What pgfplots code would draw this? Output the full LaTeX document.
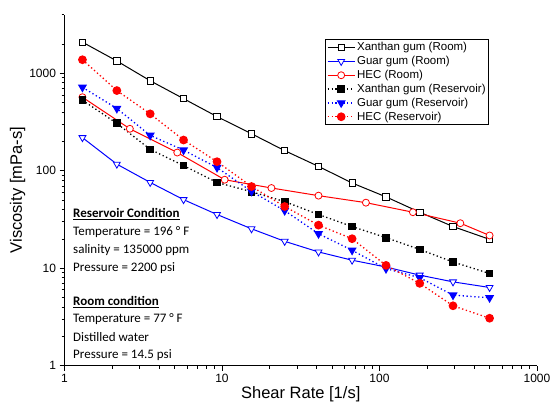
\documentclass[border=0pt]{standalone}
\usepackage{pgfplots}
\pgfplotsset{compat=1.18}
\usepackage{fontspec}
\setmainfont{Liberation Sans}
\newfontfamily\calibri{Carlito}
\begin{document}
\begin{tikzpicture}[x=1pt,y=1pt]
\path[use as bounding box] (-64.5,-48) rectangle (488.5,365.7);
\begin{axis}[
  at={(0,0)}, anchor=south west,
  scale only axis, width=472.5pt, height=351pt,
  xmode=log, ymode=log,
  xmin=1, xmax=1000, ymin=1, ymax=4000,
  axis lines*=left, axis line style={-, line width=0.9pt},
  tick align=outside, tick style={black, line width=0.8pt},
  major tick length=5pt, minor tick length=3pt,
  xtick={1,10,100,1000}, xticklabels={1,10,100,1000},
  ytick={1,10,100,1000}, yticklabels={1,10,100,1000},
  minor xtick={2,3,4,5,6,7,8,9,20,30,40,50,60,70,80,90,200,300,400,500,600,700,800,900},
  minor ytick={2,3,4,5,6,7,8,9,20,30,40,50,60,70,80,90,200,300,400,500,600,700,800,900,2000,4000},
  /pgf/number format/assume math mode=true,
  tick label style={font=\fontsize{12}{14}\selectfont},
  xlabel={Shear Rate [1/s]}, ylabel={Viscosity [mPa-s]},
  label style={font=\fontsize{16.5}{18}\selectfont},
  xlabel style={yshift=3pt}, ylabel style={yshift=-3pt},
  clip=false,
  legend style={at={(0.551,0.93)}, anchor=north west, draw=black, line width=0.8pt,
    font=\fontsize{11.5}{14}\selectfont, inner sep=1.8pt, row sep=1.6pt,
    nodes={inner sep=1.2pt},
    /tikz/every odd column/.append style={column sep=0.6pt}},
  legend cell align=left,
  legend image code/.code={\draw[mark repeat=2,mark phase=2,#1] plot coordinates {(0pt,0pt) (13.5pt,0pt) (27pt,0pt)};},
]
\addplot[black, line width=1pt, mark=square*, mark options={fill=white, solid, line width=0.8pt}, mark size=3.2pt]
 coordinates {(1.3,2090) (2.15,1340) (3.5,840) (5.7,550) (9.3,360) (15.4,240) (25,161) (41,111) (67,75) (110,54) (180,37.6) (293,26.8) (500,19.8)};
\addlegendentry{Xanthan gum (Room)}
\addplot[blue, line width=1pt, mark=triangle*, mark options={fill=white, solid, rotate=180, line width=0.8pt}, mark size=4pt]
 coordinates {(1.3,219) (2.15,117) (3.5,76) (5.7,50.6) (9.3,35.6) (15.4,25.4) (25,18.9) (41,14.7) (67,12.1) (110,10.3) (180,8.5) (293,7.25) (500,6.35)};
\addlegendentry{Guar gum (Room)}
\addplot[red, line width=1pt, mark=*, mark options={fill=white, solid, line width=0.8pt}, mark size=3.5pt]
 coordinates {(1.3,569) (2.6,270) (5.2,154) (10.4,81) (20.6,66.6) (41,55.6) (82,47.1) (163,37.6) (326,29) (500,21.7)};
\addlegendentry{HEC (Room)}
\addplot[black, line width=1.3pt, dash pattern=on 1.3pt off 2.6pt, mark=square*, mark options={fill=black, solid}, mark size=3.2pt]
 coordinates {(1.3,530) (2.15,307) (3.5,166) (5.7,113) (9.3,76) (15.4,61) (25,48.3) (41,35.6) (67,26.8) (110,20.6) (180,15.6) (293,11.6) (500,8.83)};
\addlegendentry{Xanthan gum (Reservoir)}
\addplot[blue, line width=1.3pt, dash pattern=on 1.3pt off 2.6pt, mark=triangle*, mark options={fill=blue, solid, rotate=180}, mark size=4pt]
 coordinates {(1.3,720) (2.15,436) (3.5,231) (5.7,163) (9.3,108) (15.4,61.5) (25,39) (41,22.6) (67,15.3) (110,9.9) (180,8.0) (293,5.3) (500,4.98)};
\addlegendentry{Guar gum (Reservoir)}
\addplot[red, line width=1.3pt, dash pattern=on 1.3pt off 2.6pt, mark=*, mark options={fill=red, solid}, mark size=3.7pt]
 coordinates {(1.3,1380) (2.15,666) (3.5,384) (5.7,207) (9.3,124) (15.4,69) (25,43) (41,27.7) (67,20.1) (110,10.7) (180,7.0) (293,4.12) (500,3.07)};
\addlegendentry{HEC (Reservoir)}
\end{axis}
\begin{scope}[every node/.style={anchor=west, inner sep=0pt, font=\calibri\fontsize{13}{15}\selectfont}]
\node at (8.5,152) {\underline{\textbf{Reservoir Condition}}};
\node at (8.5,134) {Temperature = 196 ° F};
\node at (8.5,116) {salinity = 135000 ppm};
\node at (8.5,98) {Pressure = 2200 psi};
\node at (8.5,64) {\underline{\textbf{Room condition}}};
\node at (8.5,47) {Temperature = 77 ° F};
\node at (8.5,29) {Distilled water};
\node at (8.5,11) {Pressure = 14.5 psi};
\end{scope}
\end{tikzpicture}
\end{document}
